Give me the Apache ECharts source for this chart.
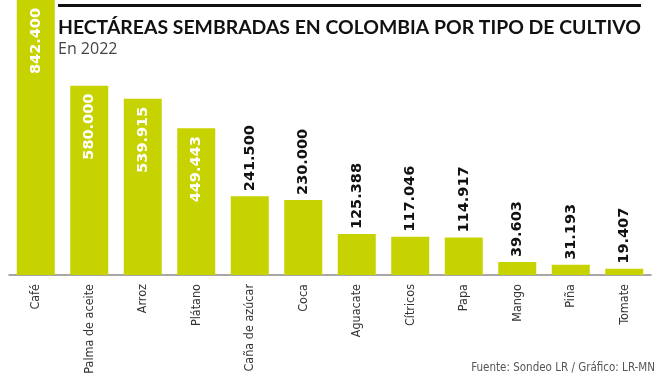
<!DOCTYPE html>
<html><head><meta charset="utf-8">
<script src="https://cdn.jsdelivr.net/npm/echarts@6/dist/echarts.min.js"></script>
<style>html,body{margin:0;padding:0;background:#fff}#c{width:660px;height:379px}</style>
</head><body><div id="c"></div>
<script>
const categories = ['Café','Palma de aceite','Arroz','Plátano','Caña de azúcar','Coca','Aguacate','Cítricos','Papa','Mango','Piña','Tomate'];
const hectareas = [842400,580000,539915,449443,241500,230000,125388,117046,114917,39603,31193,19407];
const insideCount = 4;
const titleText = 'HECTÁREAS SEMBRADAS EN COLOMBIA POR TIPO DE CULTIVO';
const subtitleText = 'En 2022';
const sourceText = 'Fuente: Sondeo LR / Gráfico: LR-MN';

function fmt(v){ return String(v).replace(/\B(?=(\d{3})+(?!\d))/g,'.'); }

const chart = echarts.init(document.getElementById('c'));
const barColor = '#c6d300';
const data = hectareas.map((v,i)=>({
  value: v,
  label: i < insideCount ? {
    position:'insideTop', distance:8, rotate:90, align:'right', verticalAlign:'middle', color:'#fff'
  } : {
    position:'top', distance:5, rotate:90, align:'left', verticalAlign:'middle', color:'#111'
  }
}));
chart.setOption({
  animation:false,
  grid:{left:9,right:9,top:0,bottom:104,containLabel:false,outerBoundsMode:'none'},
  xAxis:{type:'category',data:categories,
    axisLine:{lineStyle:{color:'#8a8a8a',width:1.5}},
    axisTick:{show:false},
    axisLabel:{rotate:90,margin:9,color:'#333',fontFamily:'DejaVu Sans Condensed',fontWeight:'normal',fontSize:12.5,interval:0}
  },
  yAxis:{type:'value',min:0,max:842400,show:false,splitLine:{show:false}},
  series:[{type:'bar',data:data,barWidth:38,itemStyle:{color:barColor},
    label:{show:true,formatter:p=>fmt(p.value),fontFamily:'DejaVu Sans',fontWeight:'bold',fontSize:14.5}
  }],
  graphic:[
    {type:'rect',left:58,top:4,shape:{width:583,height:3},style:{fill:'#111'}},
    {type:'text',left:58,top:18,style:{text:titleText,font:'bold 19.4px Lato, sans-serif',fill:'#111'}},
    {type:'text',left:58,top:41,style:{text:subtitleText,font:'16px "Open Sans", sans-serif',fill:'#444'}},
    {type:'text',right:5,top:362,style:{text:sourceText,font:'11.5px "DejaVu Sans Condensed", sans-serif',fill:'#555'}}
  ]
});
</script></body></html>
